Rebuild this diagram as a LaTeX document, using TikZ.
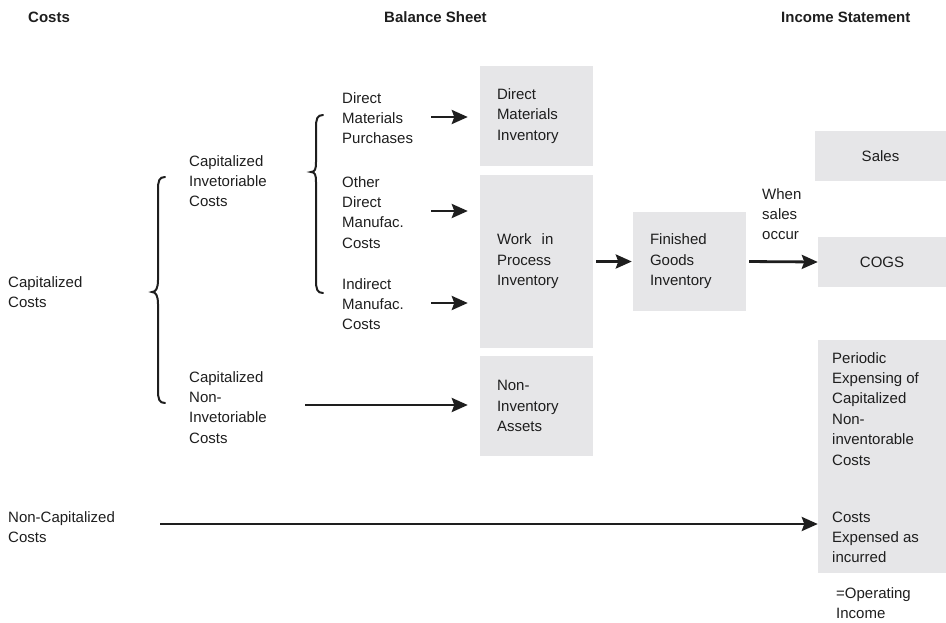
\documentclass[tikz,border=0pt]{standalone}
\usepackage{fontspec}
\setmainfont{Liberation Sans}
\usetikzlibrary{arrows.meta,calc}
\definecolor{boxgray}{HTML}{E6E6E8}
\definecolor{ink}{HTML}{1E1E1E}
\begin{document}
\begin{tikzpicture}[x=1pt,y=-1pt,
  every node/.style={text=ink,font=\fontsize{15}{20.4}\selectfont},
  lbl/.style={anchor=base west,align=left,inner sep=0pt},
  hdr/.style={anchor=base west,inner sep=0pt,font=\fontsize{15}{20.4}\selectfont\bfseries},
  gbox/.style={fill=boxgray,draw=none,align=left,inner xsep=17pt,inner ysep=0pt,
     minimum height=#1},
  cbox/.style={fill=boxgray,draw=none,align=center,inner sep=0pt,minimum height=50pt},
  arr/.style={draw=ink,line width=2.8pt,-{Stealth[length=16pt,width=14pt,inset=2.5pt]}},
  brace/.style={draw=ink,line width=2pt,line cap=round}]
\useasboundingbox (0,0) rectangle (946,622);

% headers
\node[hdr] (hcosts) at (28,22) {Costs};
\node[hdr] (hbal) at (384,22) {Balance Sheet};
\node[hdr] (hinc) at (781,22) {Income Statement};

% left text (anchored at the baseline of the last line)
\node[lbl] (capcosts) at (8,307.4) {Capitalized\\Costs};
\node[lbl] (capinv) at (189,206.8) {Capitalized\\Invetoriable\\Costs};
\node[lbl] (capnoninv) at (189,443.2) {Capitalized\\Non-\\Invetoriable\\Costs};
\node[lbl] (dmp) at (342,143.8) {Direct\\Materials\\Purchases};
\node[lbl] (odm) at (342,248.2) {Other\\Direct\\Manufac.\\Costs};
\node[lbl] (imc) at (342,329.8) {Indirect\\Manufac.\\Costs};
\node[lbl] (noncap) at (8,542.4) {Non-Capitalized\\Costs};

% balance sheet boxes
\node[gbox=100pt,text width=79pt] (dmi) at (536.5,116) {Direct\\Materials\\Inventory};
\node[gbox=173pt,text width=79pt] (wip) at (536.5,261.5) {Work\ \ in\\Process\\Inventory};
\node[gbox=100pt,text width=79pt] (nia) at (536.5,406) {Non-\\Inventory\\Assets};
\node[gbox=99pt,text width=79pt] (fgi) at (689.5,261.5) {Finished\\Goods\\Inventory};

% income statement
\node[cbox,minimum width=131pt] (sales) at (880.5,156) {Sales};
\node[cbox,minimum width=128pt] (cogs) at (882,262) {COGS};
\node[fill=boxgray,minimum width=128pt,minimum height=233pt,inner sep=0pt] (incbox) at (882,456.5) {};
\node[lbl] (periodic) at (832,465) {Periodic\\Expensing of\\Capitalized\\Non-\\inventorable\\Costs};
\node[lbl] (expensed) at (832,562.8) {Costs\\Expensed as\\incurred};
\node[lbl] (opinc) at (836,618.5) {=Operating\\Income};
\node[lbl] (when) at (762,239.8) {When\\sales\\occur};

% braces
\draw[brace] (165,177) .. controls (159,177) and (158,181) .. (158,190)
  -- (158,280) .. controls (158,288) and (156,292) .. (152,292)
  .. controls (156,292) and (158,296) .. (158,304)
  -- (158,390) .. controls (158,399) and (159,403) .. (165,403);
\draw[brace] (323,115) .. controls (317,115) and (316,119) .. (316,128)
  -- (316,162) .. controls (316,169) and (315,172) .. (311,172)
  .. controls (315,172) and (316,175) .. (316,182)
  -- (316,280) .. controls (316,289) and (317,293) .. (323,293);

% arrows
\coordinate (s1) at (431,117);
\coordinate (s2) at (431,211);
\coordinate (s3) at (431,303);
\coordinate (s4) at (305,405);
\coordinate (s5) at (160,524);
\draw[arr,shorten >=12pt] (s1) -- (s1 -| dmi.west);
\draw[arr,shorten >=12pt] (s2) -- (s2 -| wip.west);
\draw[arr,shorten >=12pt] (s3) -- (s3 -| wip.west);
\draw[arr,shorten >=12pt] (s4) -- (s4 -| nia.west);
\draw[arr,shorten <=3pt,shorten >=1pt] (wip.east) -- (fgi.west);
\draw[arr,shorten <=3pt] (fgi.east) -- (cogs.west);
\draw[arr] (s5) -- (s5 -| incbox.west);
\end{tikzpicture}
\end{document}
